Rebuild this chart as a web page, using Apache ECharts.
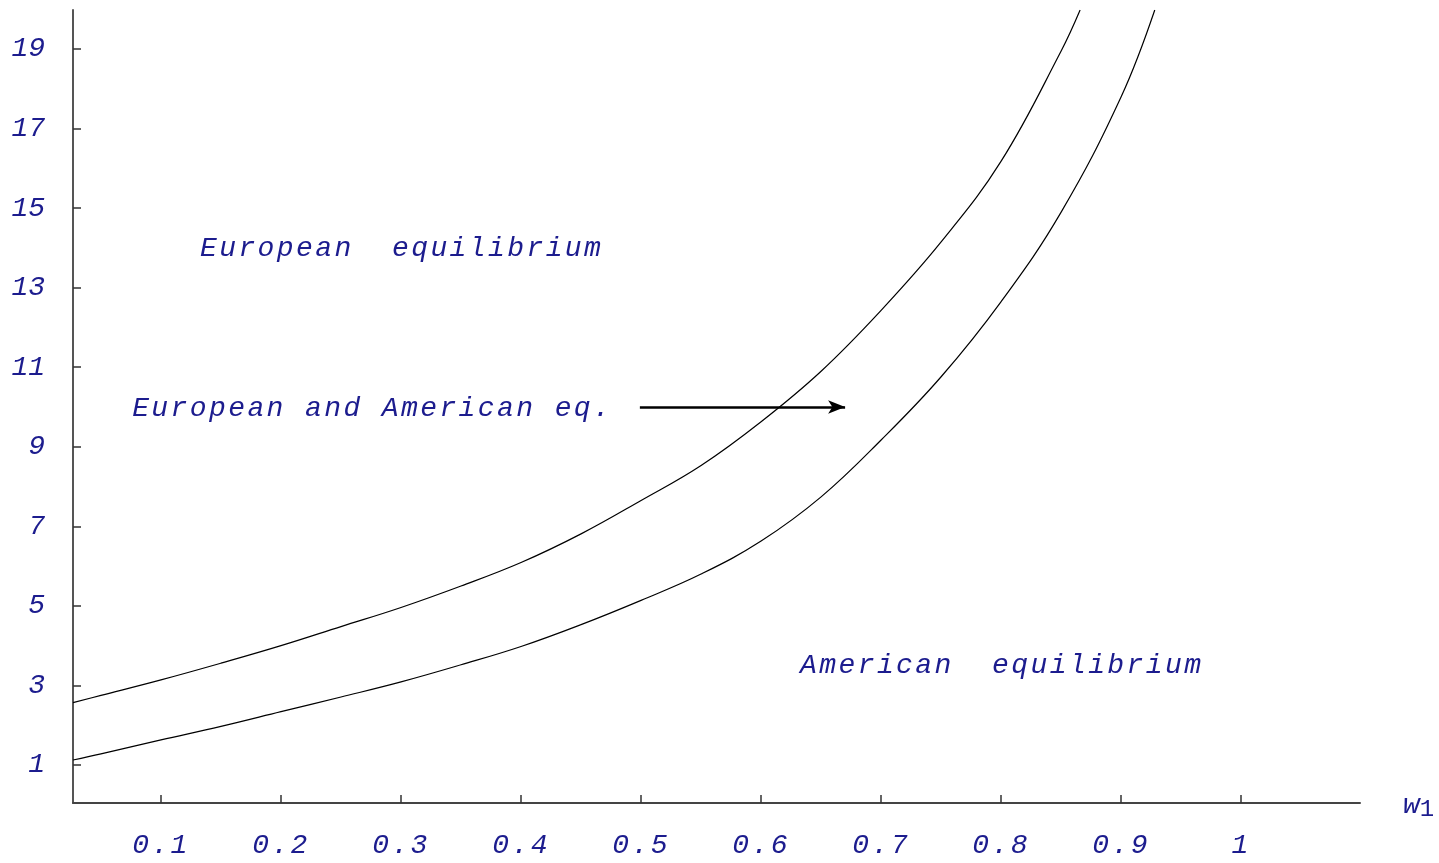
<!DOCTYPE html>
<html>
<head>
<meta charset="utf-8">
<script src="https://cdn.jsdelivr.net/npm/echarts@6/dist/echarts.min.js"></script>
<style>
html,body{margin:0;padding:0;background:#fff;}
#main{width:1439px;height:863px;}
</style>
</head>
<body>
<div id="main"></div>
<script>
// ---- data ----
const upperX = [0.0267, 0.05, 0.10, 0.15, 0.20, 0.25, 0.30, 0.35, 0.40, 0.45, 0.50, 0.55, 0.60, 0.65, 0.70, 0.75, 0.80, 0.85, 0.8658];
const upperY = [2.57, 2.75, 3.14, 3.56, 4.00, 4.48, 4.96, 5.50, 6.09, 6.81, 7.65, 8.53, 9.63, 10.90, 12.43, 14.15, 16.18, 18.95, 19.98];
const lowerX = [0.0267, 0.05, 0.10, 0.15, 0.20, 0.25, 0.30, 0.35, 0.40, 0.45, 0.50, 0.55, 0.60, 0.65, 0.70, 0.75, 0.80, 0.85, 0.90, 0.928];
const lowerY = [1.126, 1.28, 1.63, 1.97, 2.34, 2.71, 3.09, 3.52, 3.98, 4.53, 5.14, 5.80, 6.63, 7.74, 9.17, 10.76, 12.65, 14.90, 17.80, 19.98];
const xTicks = [0.1, 0.2, 0.3, 0.4, 0.5, 0.6, 0.7, 0.8, 0.9, 1];
const yTicks = [1, 3, 5, 7, 9, 11, 13, 15, 17, 19];
const annoText = ['European  equilibrium', 'European and American eq.', 'American  equilibrium'];
const annoX = [0.1325, 0.076, 0.6325];
const annoY = [13.97, 9.97, 3.49];
const arrowFrom = [0.499, 10.0];
const arrowTo = [0.67, 10.0];

// letter spacing for the wide Courier-style texts
(function(){
  const P = CanvasRenderingContext2D.prototype;
  const d = Object.getOwnPropertyDescriptor(P, 'font');
  if (d && d.set && ('letterSpacing' in P)) {
    Object.defineProperty(P, 'font', {
      configurable: true,
      get: function(){ return d.get.call(this); },
      set: function(v){
        d.set.call(this, v);
        try { this.letterSpacing = (String(v).indexOf('Courier New') >= 0) ? '2.4px' : '0px'; } catch(e) {}
      }
    });
  }
})();

const FONT_SP = '"Liberation Mono", "Courier New", monospace';
const FONT = '"Liberation Mono", monospace';
const BLUE = '#1c1c8e';
const FS = 28;

function zip(xs, ys){ return xs.map((x,i)=>[x, ys[i]]); }

const chart = echarts.init(document.getElementById('main'));
const option = {
  animation: false,
  backgroundColor: '#fff',
  grid: {left: 73, right: 79, top: 10, bottom: 60, containLabel: false, outerBoundsMode: 'none'},
  xAxis: {
    type: 'value', min: 0.0267, max: 1.099,
    splitLine: {show: false},
    axisLine: {show: true, onZero: false, lineStyle: {color: '#444', width: 2}},
    axisTick: {show: true, inside: true, length: 8, customValues: xTicks, lineStyle: {color: '#333', width: 1.5}},
    axisLabel: {customValues: xTicks, margin: 27, color: BLUE, fontFamily: FONT_SP, fontStyle: 'italic', fontSize: FS,
      formatter: v => String(Math.round(v*10)/10)},
    name: '{w|w}{s|1}', nameLocation: 'end', nameGap: 43,
    nameTextStyle: {rich: {
      w: {fontFamily: FONT, fontStyle: 'italic', fontSize: 28, color: BLUE, verticalAlign: 'bottom', padding: [0,0,2,0]},
      s: {fontFamily: FONT, fontSize: 24, color: BLUE, verticalAlign: 'top', padding: [14,0,0,0]}
    }}
  },
  yAxis: {
    type: 'value', min: 0.045, max: 19.98,
    splitLine: {show: false},
    axisLine: {show: true, onZero: false, lineStyle: {color: '#555', width: 2}},
    axisTick: {show: true, inside: true, length: 8, customValues: yTicks, lineStyle: {color: '#333', width: 1.5}},
    axisLabel: {customValues: yTicks, margin: 28, color: BLUE, fontFamily: FONT, fontStyle: 'italic', fontSize: FS, padding: [4,0,0,0]}
  },
  series: [
    {type: 'line', data: zip(upperX, upperY), smooth: 0.4, showSymbol: false, symbol: 'none',
      lineStyle: {color: '#000', width: 1.2}, clip: true, z: 3},
    {type: 'line', data: zip(lowerX, lowerY), smooth: 0.4, showSymbol: false, symbol: 'none',
      lineStyle: {color: '#000', width: 1.2}, clip: true, z: 3,
      markLine: {
        silent: true, symbol: ['none', 'arrow'], symbolSize: [10, 17],
        lineStyle: {color: '#000', width: 2.5, type: 'solid'},
        label: {show: false},
        data: [[{coord: arrowFrom}, {coord: arrowTo}]]
      }}
  ]
};
chart.setOption(option);

const g = annoText.map((t, i) => {
  const p = chart.convertToPixel({gridIndex: 0}, [annoX[i], annoY[i]]);
  return {type: 'text', x: p[0], y: p[1], z: 10,
    style: {text: t, fill: BLUE, font: 'italic ' + FS + 'px ' + FONT_SP, textAlign: 'left', textVerticalAlign: 'middle'}};
});
chart.setOption({graphic: g});
</script>
</body>
</html>
